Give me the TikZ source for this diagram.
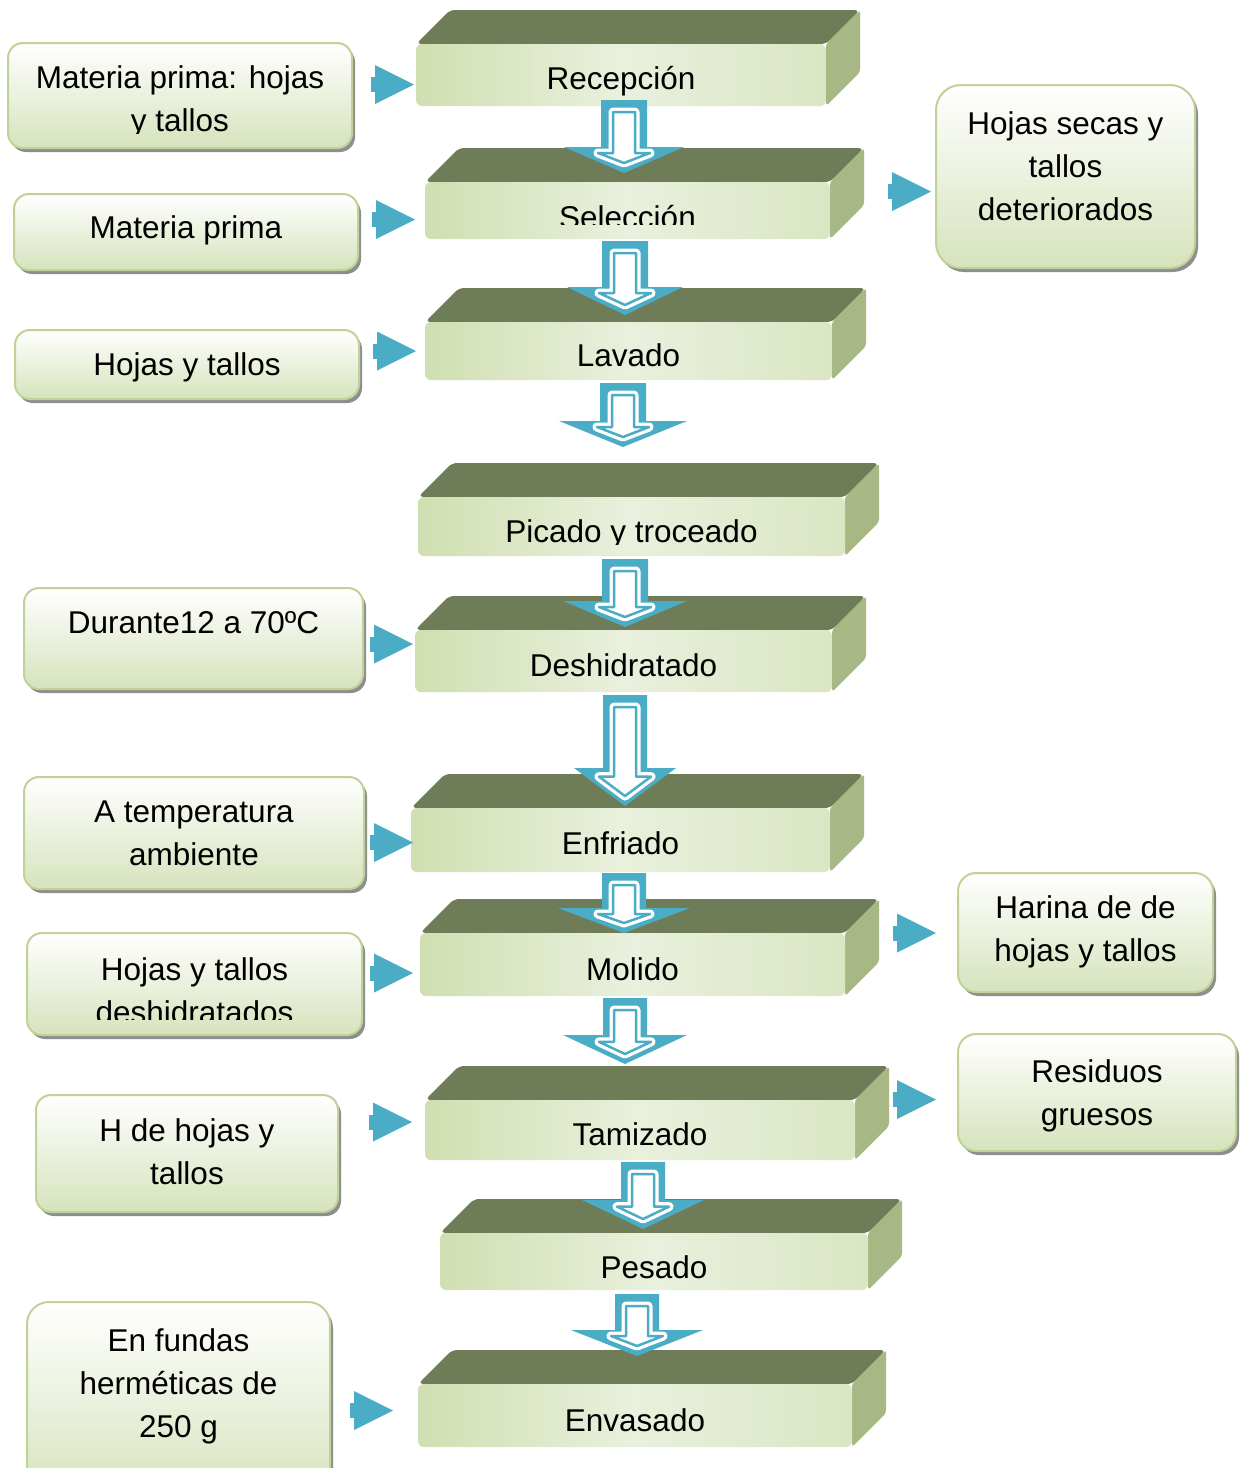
\documentclass[tikz,border=0pt]{standalone}
\usepackage{fontspec}
\setmainfont{Liberation Sans}
\usetikzlibrary{shadows}
\definecolor{topface}{HTML}{6E7C58}
\definecolor{sideface}{HTML}{A7B884}
\definecolor{arrowblue}{HTML}{4BACC6}
\definecolor{boxborder}{HTML}{BFD398}
\definecolor{boxbottom}{HTML}{D6E3BC}
\definecolor{frontA}{HTML}{D0DFB1}
\definecolor{frontB}{HTML}{E9F0DD}
\definecolor{frontC}{HTML}{DAE6C3}
\definecolor{shadowgray}{HTML}{8E8E8E}
\tikzset{
  lbl/.style={font=\fontsize{31.5}{43}\selectfont, inner sep=0pt, align=center, anchor=base},
  frontface/.style={rectangle, rounded corners=6pt, inner sep=0pt, left color=frontA, right color=frontC, middle color=frontB},
  sidebox/.style={rectangle, rounded corners=#1, draw=boxborder, line width=2pt, top color=white, bottom color=boxbottom, inner sep=0pt,
    drop shadow={shadow xshift=3pt, shadow yshift=-4pt, fill=shadowgray, opacity=1}},
  sidebox/.default=15pt,
  arrowfill/.style={fill=arrowblue},
}
% process block: name, x0, y0, x1, y1, baseline, clip-y, text
\newcommand\procblock[8]{%
  \fill[topface, rounded corners=5pt] (#2,#3) -- (#2+34,#3-34) -- (#4+34,#3-34) -- (#4,#3) -- cycle;
  \fill[sideface, rounded corners=3pt] (#4,#3) -- (#4+34,#3-34) -- (#4+34,#5-34) -- (#4,#5) -- cycle;
  \node[frontface, minimum width={#4-#2}, minimum height={#5-#3}] (#1) at ({(#2+#4)/2},{(#3+#5)/2}) {};
  \begin{scope}
    \clip (#2,#3) rectangle (#4,#7);
    \node[lbl] (#1-t) at ({(#2+#4)/2},#6) {#8};
  \end{scope}}
% side box: name, x0, y0, x1, y1, radius, baseline of last line, clip-y, text
\newcommand\mysidebox[9]{%
  \node[sidebox=#6, minimum width={#4-#2}, minimum height={#5-#3}] (#1) at ({(#2+#4)/2},{(#3+#5)/2}) {};
  \begin{scope}
    \clip (#2,#3) rectangle (#4,#8);
    \node[lbl] (#1-t) at ({(#2+#4)/2},#7) {#9};
  \end{scope}}
% small right arrow: x start, y centre
\newcommand\rarrow[2]{%
  \fill[arrowfill] (#1,#2-7.5) rectangle (#1+6,#2+7.5);
  \fill[arrowfill] (#1+4,#2-19.5) -- (#1+43,#2) -- (#1+4,#2+19.5) -- cycle;}
% down arrow: cx, top, stem half width, head start, head half width, tip
\newcommand\darrow[6]{%
  \pgfmathsetmacro\itip{#6-10}%
  \pgfmathsetmacro\ihs{max(\itip-26*(#6-#4)/#5,#4+6)}%
  \pgfmathsetmacro\itop{#2+12}%
  \fill[arrowfill] (#1-#3,#2) -- (#1+#3,#2) -- (#1+#3,#4) -- (#1+#5,#4) -- (#1,#6) -- (#1-#5,#4) -- (#1-#3,#4) -- cycle;
  \draw[white, line width=9pt, line join=round] (#1-11,\itop) -- (#1+11,\itop) -- (#1+11,\ihs) -- (#1+26,\ihs) -- (#1,\itip) -- (#1-26,\ihs) -- (#1-11,\ihs) -- cycle;
  \filldraw[fill=white, draw=arrowblue, line width=2.5pt, line join=round] (#1-11,\itop) -- (#1+11,\itop) -- (#1+11,\ihs) -- (#1+26,\ihs) -- (#1,\itip) -- (#1-26,\ihs) -- (#1-11,\ihs) -- cycle;}
\begin{document}
\begin{tikzpicture}[x=1pt,y=-1pt]
\useasboundingbox (0,0) rectangle (1248,1468);
\fill[white] (0,0) rectangle (1248,1468);
% process blocks
\procblock{rec}{416}{44}{826}{106}{89}{106}{Recepción}
\procblock{sel}{425}{182}{830}{239}{228}{224}{Selección}
\procblock{lav}{425}{322}{832}{380}{366}{380}{Lavado}
\procblock{pic}{418}{497}{845}{556}{542}{544}{Picado y troceado}
\procblock{des}{415}{630}{832}{692}{676}{692}{Deshidratado}
\procblock{enf}{411}{808}{830}{872}{854}{872}{Enfriado}
\procblock{mol}{420}{933}{845}{996}{980}{996}{Molido}
\procblock{tam}{425}{1100}{855}{1160}{1145}{1160}{Tamizado}
\procblock{pes}{440}{1233}{868}{1290}{1278}{1290}{Pesado}
\procblock{env}{418}{1384}{852}{1447}{1431}{1447}{Envasado}
% side boxes
\mysidebox{in1}{8}{43}{352}{148}{15pt}{131}{133}{Materia prima: hojas\\y tallos}
\mysidebox{in2}{14}{194}{358}{270}{15pt}{238}{270}{Materia prima}
\mysidebox{in3}{15}{330}{359}{399}{15pt}{375}{399}{Hojas y tallos}
\mysidebox{in4}{24}{588}{363}{689}{15pt}{633}{689}{Durante12 a 70ºC}
\mysidebox{in5}{24}{777}{364}{889}{15pt}{865}{889}{A temperatura\\ambiente}
\mysidebox{in6}{27}{933}{362}{1035}{15pt}{1023}{1019}{Hojas y tallos\\deshidratados}
\mysidebox{in7}{36}{1095}{338}{1212}{15pt}{1184}{1212}{H de hojas y\\tallos}
\mysidebox{in8}{27}{1302}{330}{1500}{22pt}{1437}{1500}{En fundas\\herméticas de\\250 g}
\mysidebox{out1}{936}{85}{1195}{268}{25pt}{220}{268}{Hojas secas y\\tallos\\deteriorados}
\mysidebox{out2}{958}{873}{1213}{992}{18pt}{961}{992}{Harina de de\\hojas y tallos}
\mysidebox{out3}{958}{1034}{1236}{1151}{18pt}{1125}{1151}{Residuos\\gruesos}
% small arrows
\rarrow{371}{84.5}
\rarrow{372}{219.5}
\rarrow{373}{351}
\rarrow{370}{644}
\rarrow{370}{842.5}
\rarrow{370}{973}
\rarrow{369}{1122}
\rarrow{350}{1410.5}
\rarrow{888}{191.5}
\rarrow{893}{933}
\rarrow{893}{1099.5}
% down arrows
\darrow{624}{100}{23}{147}{60}{173}
\darrow{625}{241}{23}{287}{58}{315}
\darrow{623}{383}{23}{421}{64}{447}
\darrow{625}{559}{23}{601}{62}{627}
\darrow{625}{695}{22}{768}{51}{806}
\darrow{624}{873}{22}{908}{66}{933}
\darrow{625}{998}{22}{1035}{62}{1064}
\darrow{643}{1162}{22}{1200}{61}{1229}
\darrow{637}{1294}{22}{1330}{66}{1356}
\end{tikzpicture}
\end{document}
